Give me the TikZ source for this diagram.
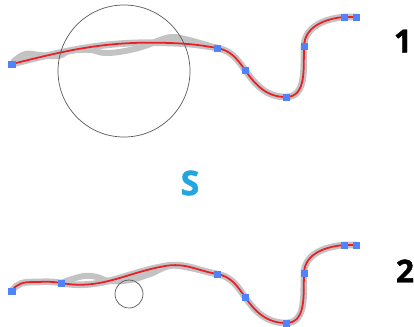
\documentclass[tikz,border=0pt]{standalone}
\usepackage{fontspec}
\setmainfont{Open Sans}[BoldFeatures={FakeBold=1.3}]
\definecolor{curvered}{RGB}{235,30,40}
\definecolor{ptblue}{RGB}{80,130,250}
\definecolor{sblue}{RGB}{35,165,225}
\definecolor{halogray}{RGB}{195,195,195}
\begin{document}
\begin{tikzpicture}[x=0.03cm, y=-0.03cm,
    pt/.style={rectangle, fill=ptblue, minimum size=0.21cm, inner sep=0pt},
    lbl/.style={font=\fontsize{27}{27}\selectfont\bfseries},
    halo/.style={draw=halogray, line width=0.2cm, line cap=round, line join=round},
    stroke/.style={postaction={draw=curvered, line width=1.5pt}}]

            \useasboundingbox (0,0) rectangle (414,326);

            % Curve 1
            \coordinate (a1) at (12,64);
            \coordinate (a2) at (217,48);
            \coordinate (a3) at (245,70);
            \coordinate (a4) at (286,97);
            \coordinate (a5) at (304,46);
            \coordinate (a6) at (344,17);
            \coordinate (a7) at (356,17);

            % rough stroke under curve 1
            \draw[halo, line width=0.18cm] plot[smooth, tension=0.7] coordinates {(13,62) (25,54) (40,55) (58,56) (70,51) (90,50) (105,53) (125,51) (145,46) (160,40) (172,37) (185,39) (200,43) (217,48)};

            \draw[halo, stroke] (a1) to[out=14, in=178] (170,43) to[out=-2, in=170] (a2)
                to[out=-10, in=125] (a3) to[out=-55, in=180] (a4)
                to[out=0, in=-92] (a5) to[out=88, in=185] (a6) -- (a7);

            \node (circ1) at (124,71) [circle, draw=black!65, line width=0.6pt, minimum size=3.96cm, inner sep=0pt] {};

            \foreach \p in {1,...,7}
                \node[pt] (p1\p) at (a\p) {};

            \node[lbl] (n1) at (403,41) {1};

            % S
            \node[lbl, text=sblue, font=\fontsize{29}{29}\selectfont\bfseries] (s) at (190,183) {S};

            % Curve 2
            \coordinate (b1) at (12,291);
            \coordinate (b2) at (61,283);
            \coordinate (b3) at (217,274);
            \coordinate (b4) at (245,297);
            \coordinate (b5) at (286,323);
            \coordinate (b6) at (304,273);
            \coordinate (b7) at (344,245);
            \coordinate (b8) at (356,245);

            % rough stroke under curve 2
            \draw[halo, line width=0.18cm] plot[smooth, tension=0.7] coordinates {(61,283) (72,279) (85,276) (97,277) (110,281) (130,280) (150,274) (170,266) (190,268) (217,274)};

            \draw[halo, stroke] (b1) to[out=60, in=180] (33,282) to[out=0, in=170] (b2)
                to[out=-10, in=190] (165,266) to[out=10, in=170] (b3)
                to[out=-10, in=125] (b4) to[out=-55, in=180] (b5)
                to[out=0, in=-92] (b6) to[out=88, in=185] (b7) -- (b8);

            \node (circ2) at (129,294) [circle, draw=black!65, line width=0.6pt, minimum size=0.84cm, inner sep=0pt] {};

            \foreach \p in {1,...,8}
                \node[pt] (p2\p) at (b\p) {};

            \node[lbl] (n2) at (405,271) {2};

\end{tikzpicture}
\end{document}
